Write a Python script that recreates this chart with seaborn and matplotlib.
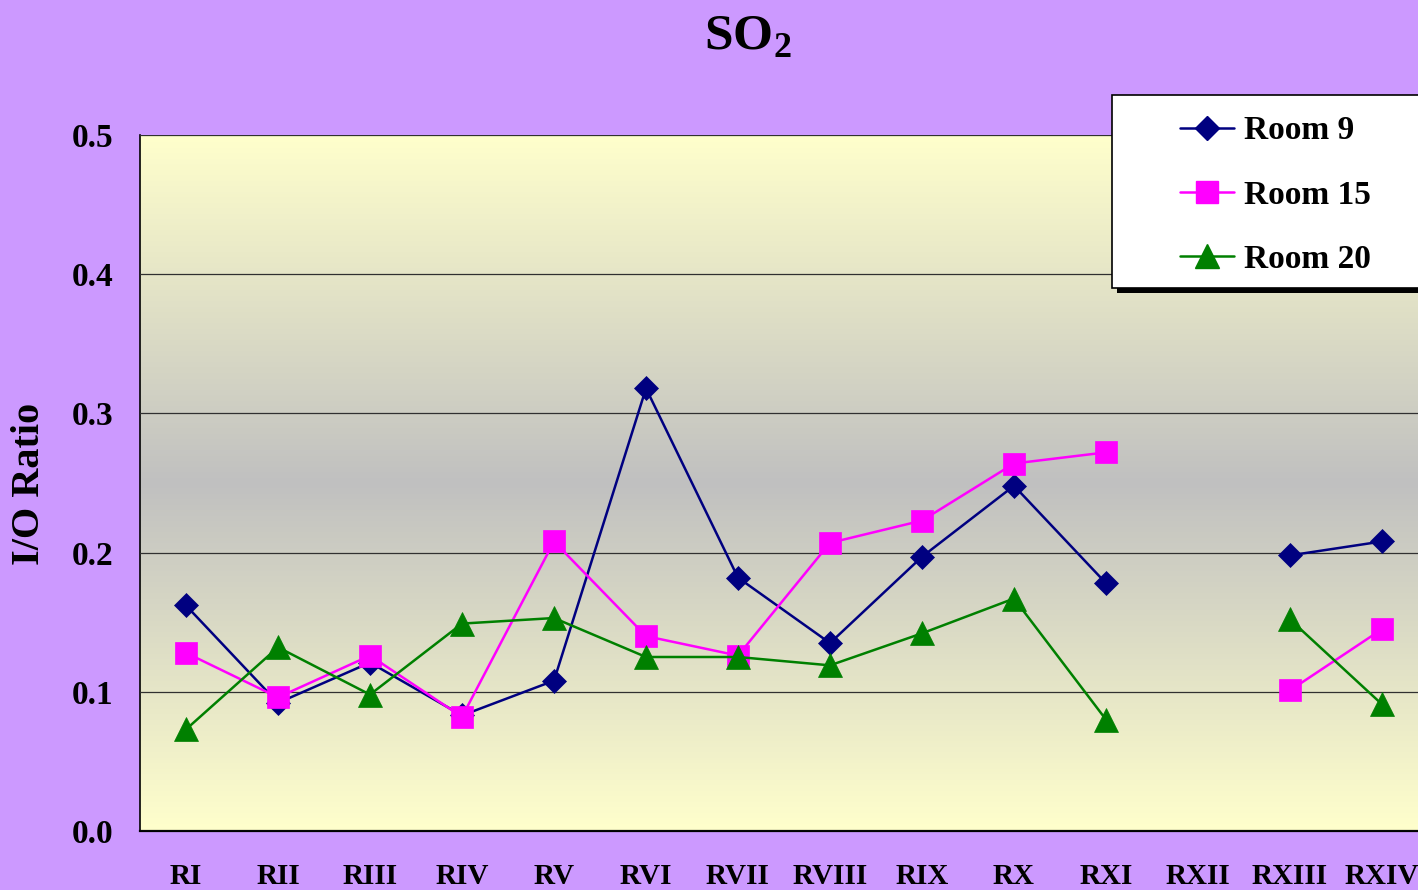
import numpy as np
import pandas as pd
import matplotlib
matplotlib.use("Agg")
import matplotlib.pyplot as plt
from matplotlib.colors import LinearSegmentedColormap
from matplotlib.lines import Line2D
from matplotlib.patches import Rectangle
import seaborn as sns

# ---- data -------------------------------------------------------------
categories = ["RI", "RII", "RIII", "RIV", "RV", "RVI", "RVII", "RVIII",
              "RIX", "RX", "RXI", "RXII", "RXIII", "RXIV"]
room9 = [0.162, 0.092, 0.121, 0.083, 0.108, 0.318, 0.182, 0.135,
         0.197, 0.248, 0.178, np.nan, 0.198, 0.208]
room15 = [0.128, 0.096, 0.126, 0.082, 0.208, 0.140, 0.126, 0.207,
          0.223, 0.264, 0.272, np.nan, 0.101, 0.145]
room20 = [0.073, 0.132, 0.098, 0.149, 0.153, 0.125, 0.125, 0.119,
          0.142, 0.167, 0.080, np.nan, 0.152, 0.091]
series_names = ["Room 9", "Room 15", "Room 20"]
yticks = [0.0, 0.1, 0.2, 0.3, 0.4, 0.5]

# ---- style ------------------------------------------------------------
sns.set_style("white")
plt.rcParams["font.family"] = ["Liberation Serif", "DejaVu Serif"]
plt.rcParams["font.weight"] = "bold"
plt.rcParams["text.color"] = "black"
plt.rcParams["xtick.labelcolor"] = "black"
plt.rcParams["ytick.labelcolor"] = "black"
plt.rcParams["mathtext.fontset"] = "custom"
plt.rcParams["mathtext.rm"] = "Liberation Serif:bold"
plt.rcParams["mathtext.bf"] = "Liberation Serif:bold"

colors = {"Room 9": "#000080", "Room 15": "#FF00FF", "Room 20": "#008000"}
markers = {"Room 9": "D", "Room 15": "s", "Room 20": "^"}
msizes = {"Room 9": 12.4, "Room 15": 16.2, "Room 20": 17.0}

W, H = 1418, 890
fig = plt.figure(figsize=(W / 100, H / 100), dpi=100, facecolor="#CC99FF")
ax = fig.add_axes([140 / W, 59 / H, 1288 / W, 696 / H])
ax.set_facecolor("none")

# gradient plot area: pale yellow -> grey -> pale yellow
cmap = LinearSegmentedColormap.from_list(
    "band", ["#FFFFCC", "#C0C0C0", "#FFFFCC"])
grad = np.linspace(0, 1, 256).reshape(-1, 1)
ax.imshow(grad, extent=(-0.5, len(categories) - 0.5, 0, 0.5),
          aspect="auto", cmap=cmap, origin="lower", zorder=0)

# ---- long-form table, split at gaps so missing points break the line ---
rows = []
for name, vals in zip(series_names, [room9, room15, room20]):
    seg = 0
    for i, v in enumerate(vals):
        if np.isnan(v):
            seg += 1
            continue
        rows.append({"room": name, "x": i, "value": v, "seg": seg})
df = pd.DataFrame(rows)

for name in series_names:
    sub = df[df["room"] == name]
    sns.lineplot(data=sub, x="x", y="value", units="seg", estimator=None,
                 color=colors[name], marker=markers[name],
                 markersize=msizes[name], markeredgecolor=colors[name],
                 markeredgewidth=0.5, linewidth=1.8, legend=False,
                 ax=ax, zorder=3)

# ---- axes -------------------------------------------------------------
ax.set_xlim(-0.5, len(categories) - 0.5)
ax.set_ylim(0, 0.5)
ax.set_xticks(range(len(categories)))
ax.set_xticklabels(categories, fontsize=21, fontweight="bold")
ax.set_xticks(np.arange(-0.5, len(categories)), minor=True)
ax.tick_params(axis="x", which="major", length=0, pad=23)
ax.tick_params(axis="x", which="minor", length=6, width=1.4,
               color="#505050", direction="out")
ax.set_yticks(yticks)
ax.set_yticklabels([f"{t:.1f}" for t in yticks], fontsize=24,
                   fontweight="bold")
ax.tick_params(axis="y", length=7, width=1.0, color="#303030",
               direction="out", pad=12)
ax.set_xlabel("")
ax.set_ylabel("")
ax.yaxis.grid(True, color="#303030", linewidth=0.9)
ax.xaxis.grid(False)
ax.set_axisbelow(False)
for side in ["top", "right"]:
    ax.spines[side].set_visible(False)
ax.spines["left"].set_color("black")
ax.spines["left"].set_linewidth(1.2)
ax.spines["bottom"].set_color("black")
ax.spines["bottom"].set_linewidth(1.6)
for gl in ax.get_ygridlines():
    gl.set_zorder(1)

# ---- titles -----------------------------------------------------------
fig.text(748 / W, 1 - 38 / H, r"SO$_2$", ha="center", va="center",
         fontsize=37, fontweight="bold", color="black")
fig.text(30 / W, 1 - 484 / H, "I/O Ratio", rotation=90, ha="center",
         va="center", fontsize=29, fontweight="bold", color="black")

# ---- legend box with dropped shadow -----------------------------------
fig.patches.append(Rectangle((1117 / W, 1 - 293 / H), 330 / W, 193 / H,
                             transform=fig.transFigure, facecolor="black",
                             edgecolor="none", zorder=5))
fig.patches.append(Rectangle((1112 / W, 1 - 288 / H), 330 / W, 193 / H,
                             transform=fig.transFigure, facecolor="white",
                             edgecolor="black", linewidth=1.2, zorder=6))
handles = [Line2D([], [], color=colors[n], marker=markers[n],
                  markersize=msizes[n], markeredgecolor=colors[n],
                  linewidth=1.8) for n in series_names]
leg = fig.legend(handles, series_names, loc="center left",
                 bbox_to_anchor=(1180 / W, 1 - 195 / H), frameon=False,
                 prop={"family": "Liberation Serif", "weight": "bold",
                       "size": 24},
                 handlelength=1.62, handletextpad=0.3, labelspacing=1.0,
                 borderpad=0, borderaxespad=0)
for t in leg.get_texts():
    t.set_color("black")
leg.set_zorder(7)

fig.savefig("out.png", dpi=100, facecolor=fig.get_facecolor())
